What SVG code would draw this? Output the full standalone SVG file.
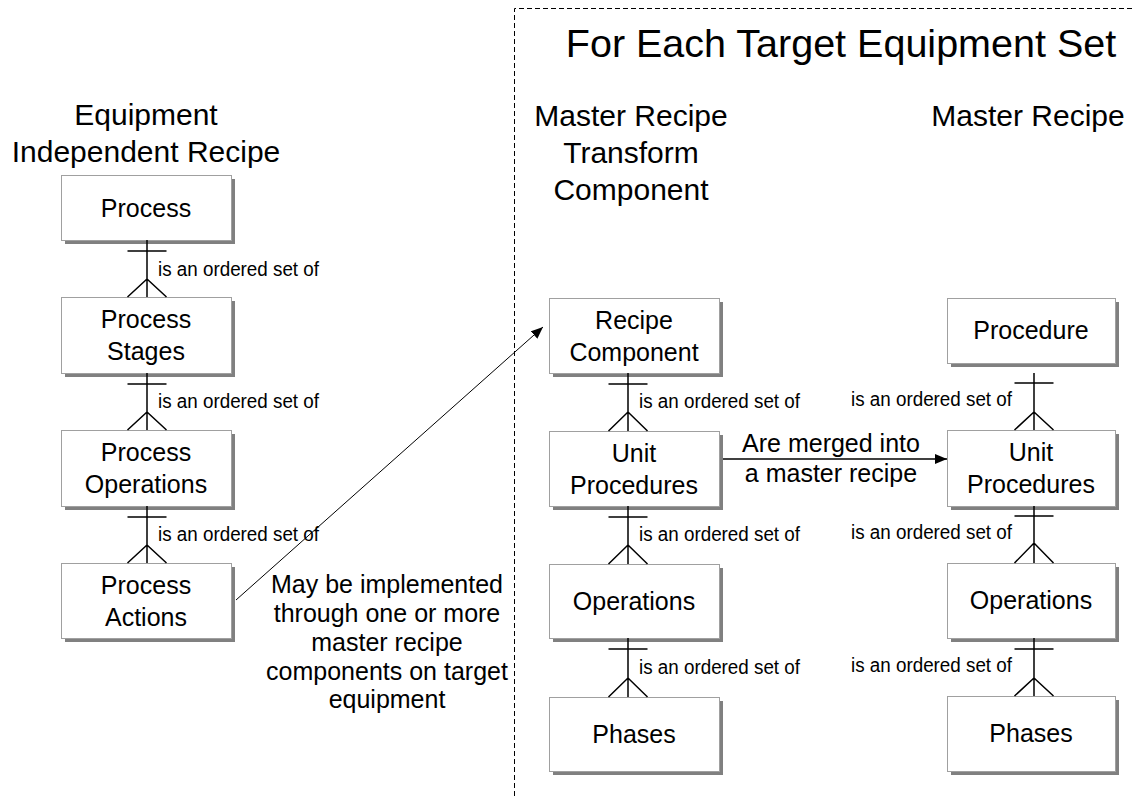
<svg xmlns="http://www.w3.org/2000/svg" width="1134" height="796" viewBox="0 0 1134 796">
<style>
  .box { fill: #ffffff; stroke: #a0a0a0; stroke-width: 1; }
  .shadow { fill: #808080; }
  .lbl { font-family: "Liberation Sans", Arial, sans-serif; font-size: 25px; fill: #000; text-anchor: middle; }
  .hdr { font-family: "Liberation Sans", Arial, sans-serif; font-size: 30px; fill: #000; text-anchor: middle; }
  .title { font-family: "Liberation Sans", Arial, sans-serif; font-size: 39.5px; fill: #000; text-anchor: middle; }
  .rel { font-family: "Liberation Sans", Arial, sans-serif; font-size: 19.5px; fill: #000; }
  .ln { stroke: #000; stroke-width: 1.5; fill: none; }
  .dash { stroke: #000; stroke-width: 1; stroke-dasharray: 5 3; fill: none; }
</style>
<defs>
  <marker id="arr" viewBox="0 0 12 10" refX="12" refY="5" markerWidth="12" markerHeight="10" markerUnits="userSpaceOnUse" orient="auto">
    <path d="M0,0 L12,5 L0,10 z" fill="#000"/>
  </marker>
</defs>
<rect width="1134" height="796" fill="#ffffff"/>

<path class="dash" d="M514.5,796 V8.5 H1134"/>

<text class="title" x="841" y="57">For Each Target Equipment Set</text>
<text class="hdr" x="146" y="125">Equipment</text>
<text class="hdr" x="146" y="162">Independent Recipe</text>
<text class="hdr" x="631" y="126">Master Recipe</text>
<text class="hdr" x="631" y="163">Transform</text>
<text class="hdr" x="631" y="200">Component</text>
<text class="hdr" x="1028" y="126">Master Recipe</text>

<g id="process">
  <rect class="shadow" x="65" y="179" width="170" height="65"/>
  <rect class="box" x="61.5" y="175.5" width="170" height="65"/>
  <text class="lbl" x="146" y="217">Process</text>
</g>
<g id="process-stages">
  <rect class="shadow" x="65" y="301" width="170" height="76"/>
  <rect class="box" x="61.5" y="297.5" width="170" height="76"/>
  <text class="lbl" x="146" y="328">Process</text>
  <text class="lbl" x="146" y="360">Stages</text>
</g>
<g id="process-operations">
  <rect class="shadow" x="65" y="434" width="170" height="76"/>
  <rect class="box" x="61.5" y="430.5" width="170" height="76"/>
  <text class="lbl" x="146" y="461">Process</text>
  <text class="lbl" x="146" y="493">Operations</text>
</g>
<g id="process-actions">
  <rect class="shadow" x="65" y="567" width="170" height="75"/>
  <rect class="box" x="61.5" y="563.5" width="170" height="75"/>
  <text class="lbl" x="146" y="594">Process</text>
  <text class="lbl" x="146" y="626">Actions</text>
</g>

<g id="recipe-component">
  <rect class="shadow" x="553" y="302" width="170" height="75"/>
  <rect class="box" x="549.5" y="298.5" width="170" height="75"/>
  <text class="lbl" x="634" y="329">Recipe</text>
  <text class="lbl" x="634" y="361">Component</text>
</g>
<g id="unit-procedures-t">
  <rect class="shadow" x="553" y="435" width="170" height="75"/>
  <rect class="box" x="549.5" y="431.5" width="170" height="75"/>
  <text class="lbl" x="634" y="462">Unit</text>
  <text class="lbl" x="634" y="494">Procedures</text>
</g>
<g id="operations-t">
  <rect class="shadow" x="553" y="568" width="170" height="74"/>
  <rect class="box" x="549.5" y="564.5" width="170" height="74"/>
  <text class="lbl" x="634" y="610">Operations</text>
</g>
<g id="phases-t">
  <rect class="shadow" x="553" y="701" width="170" height="74"/>
  <rect class="box" x="549.5" y="697.5" width="170" height="74"/>
  <text class="lbl" x="634" y="743">Phases</text>
</g>

<g id="procedure-m">
  <rect class="shadow" x="951" y="302" width="168" height="65"/>
  <rect class="box" x="947.5" y="298.5" width="168" height="65"/>
  <text class="lbl" x="1031" y="339">Procedure</text>
</g>
<g id="unit-procedures-m">
  <rect class="shadow" x="951" y="434" width="168" height="76"/>
  <rect class="box" x="947.5" y="430.5" width="168" height="76"/>
  <text class="lbl" x="1031" y="461">Unit</text>
  <text class="lbl" x="1031" y="493">Procedures</text>
</g>
<g id="operations-m">
  <rect class="shadow" x="951" y="567" width="168" height="75"/>
  <rect class="box" x="947.5" y="563.5" width="168" height="75"/>
  <text class="lbl" x="1031" y="609">Operations</text>
</g>
<g id="phases-m">
  <rect class="shadow" x="951" y="700" width="168" height="75"/>
  <rect class="box" x="947.5" y="696.5" width="168" height="75"/>
  <text class="lbl" x="1031" y="742">Phases</text>
</g>

<g id="connectors">
  <!-- left column -->
  <path class="ln" d="M147,240 V297 M127.5,251 H166.5 M127.5,297 L147,279 L166.5,297"/>
  <path class="ln" d="M147,373 V430 M127.5,384 H166.5 M127.5,430 L147,412 L166.5,430"/>
  <path class="ln" d="M147,506 V563 M127.5,517 H166.5 M127.5,563 L147,545 L166.5,563"/>
  <text class="rel" x="158" y="276" textLength="161" lengthAdjust="spacingAndGlyphs">is an ordered set of</text>
  <text class="rel" x="158" y="408" textLength="161" lengthAdjust="spacingAndGlyphs">is an ordered set of</text>
  <text class="rel" x="158" y="541" textLength="161" lengthAdjust="spacingAndGlyphs">is an ordered set of</text>

  <!-- middle column -->
  <path class="ln" d="M628,373 V431 M608.5,384 H647.5 M608.5,431 L628,412 L647.5,431"/>
  <path class="ln" d="M628,506 V564 M608.5,517 H647.5 M608.5,564 L628,545 L647.5,564"/>
  <path class="ln" d="M628,638 V697 M608.5,649 H647.5 M608.5,697 L628,678 L647.5,697"/>
  <text class="rel" x="639" y="408" textLength="161" lengthAdjust="spacingAndGlyphs">is an ordered set of</text>
  <text class="rel" x="639" y="541" textLength="161" lengthAdjust="spacingAndGlyphs">is an ordered set of</text>
  <text class="rel" x="639" y="674" textLength="161" lengthAdjust="spacingAndGlyphs">is an ordered set of</text>

  <!-- right column -->
  <path class="ln" d="M1034,373 V430 M1014.5,383 H1053.5 M1014.5,430 L1034,412 L1053.5,430"/>
  <path class="ln" d="M1034,506 V563 M1014.5,516 H1053.5 M1014.5,563 L1034,543 L1053.5,563"/>
  <path class="ln" d="M1034,638 V696 M1014.5,649 H1053.5 M1014.5,696 L1034,678 L1053.5,696"/>
  <text class="rel" x="851" y="406" textLength="161" lengthAdjust="spacingAndGlyphs">is an ordered set of</text>
  <text class="rel" x="851" y="539" textLength="161" lengthAdjust="spacingAndGlyphs">is an ordered set of</text>
  <text class="rel" x="851" y="672" textLength="161" lengthAdjust="spacingAndGlyphs">is an ordered set of</text>

  <!-- implementation arrow -->
  <line x1="236" y1="600" x2="543" y2="327" stroke="#000" stroke-width="1" marker-end="url(#arr)"/>
  <text class="lbl" x="387" y="593">May be implemented</text>
  <text class="lbl" x="387" y="622">through one or more</text>
  <text class="lbl" x="387" y="651">master recipe</text>
  <text class="lbl" x="387" y="680">components on target</text>
  <text class="lbl" x="387" y="708">equipment</text>

  <!-- merge arrow -->
  <line x1="723" y1="459" x2="947" y2="459" stroke="#000" stroke-width="1.5" marker-end="url(#arr)"/>
  <text class="lbl" x="831" y="452">Are merged into</text>
  <text class="lbl" x="831" y="482">a master recipe</text>
</g>
</svg>
